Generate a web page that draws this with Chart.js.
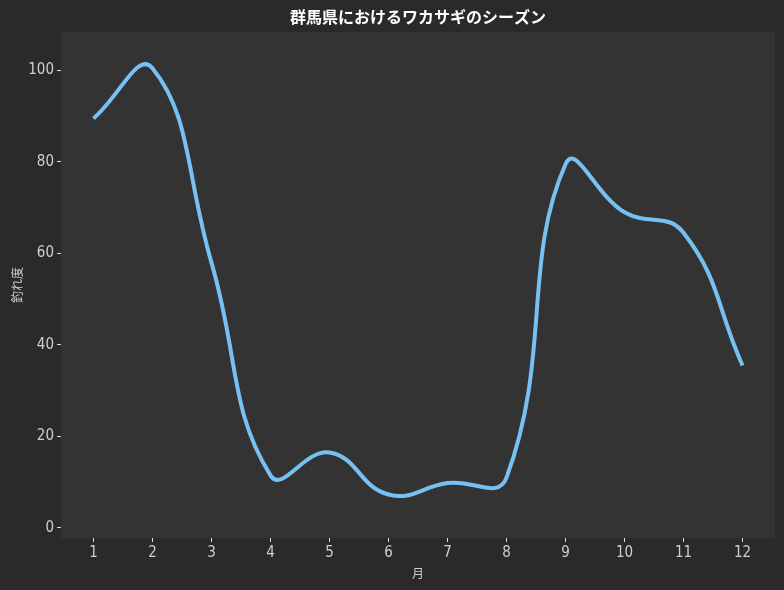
<!DOCTYPE html>
<html>
<head>
<meta charset="utf-8">
<script src="https://cdn.jsdelivr.net/npm/chart.js@4/dist/chart.umd.min.js"></script>
<style>
  html, body { margin: 0; padding: 0; background: #2a2a2a; }
  #wrap { width: 784px; height: 590px; }
</style>
</head>
<body>
<div id="wrap"><canvas id="chart"></canvas></div>
<script>
// ── 群馬県 ワカサギ 釣れ度 ──

const months    = [1, 2, 3, 4, 5, 6, 7, 8, 9, 10, 11, 12];
const catchRate = [89.5, 100.5, 58, 11.5, 16.5, 7.3, 9.8, 11, 79.5, 69, 64.5, 35.5];
const yTicks    = [0, 20, 40, 60, 80, 100];
const TITLE     = '群馬県におけるワカサギのシーズン';

const TICK_FONT = "'DejaVu Sans Condensed', 'Noto Sans CJK JP', sans-serif";
const CJK_FONT  = "'Noto Sans CJK JP', sans-serif";

// plot area background + title centred over the plot
const plotBg = {
  id: 'plotBg',
  beforeDraw(chart) {
    const { ctx, chartArea: a } = chart;
    ctx.save();
    ctx.fillStyle = '#333333';
    ctx.fillRect(a.left, a.top, a.right - a.left, a.bottom - a.top);
    ctx.fillStyle = '#ffffff';
    ctx.font = 'bold 16px ' + CJK_FONT;
    ctx.textAlign = 'center';
    ctx.textBaseline = 'middle';
    ctx.fillText(TITLE, (a.left + a.right) / 2, 17);
    ctx.restore();
  }
};

new Chart(document.getElementById('chart'), {
  type: 'line',
  data: {
    datasets: [{
      label: '釣れ度',
      data: months.map((m, i) => ({ x: m, y: catchRate[i] })),
      borderColor: '#76c1f2',
      borderWidth: 4,
      pointRadius: 0,
      tension: 0.45,
      fill: false
    }]
  },
  options: {
    responsive: true, maintainAspectRatio: false, animation: false,
    layout: { padding: { left: 0, right: 9, top: 32, bottom: 0 } },
    plugins: {
      legend: { display: false },
      tooltip: { enabled: false },
      title: { display: false }
    },
    scales: {
      x: {
        type: 'linear', min: 0.45, max: 12.55,
        afterBuildTicks: s => { s.ticks = months.map(v => ({ value: v })); },
        afterFit: s => { s.height = 52; },
        border: { display: false },
        grid: { drawOnChartArea: false, drawTicks: true, tickLength: 4, tickColor: '#dddddd', tickWidth: 1 },
        ticks: { color: '#cfcfcf', padding: 2, font: { family: TICK_FONT, size: 15 }, callback: v => String(v) },
        title: { display: true, text: '月', color: '#cfcfcf', padding: { top: 0, bottom: 9 },
                 font: { family: CJK_FONT, size: 12 } }
      },
      y: {
        min: -2.2, max: 108.4,
        afterBuildTicks: s => { s.ticks = yTicks.map(v => ({ value: v })); },
        afterFit: s => { s.width = 61; },
        border: { display: false },
        grid: { drawOnChartArea: false, drawTicks: true, tickLength: 4, tickColor: '#dddddd', tickWidth: 1 },
        ticks: { color: '#cfcfcf', padding: 3, font: { family: TICK_FONT, size: 15 }, callback: v => String(v) },
        title: { display: true, text: '釣れ度', color: '#cfcfcf', padding: { top: 10, bottom: 0 },
                 font: { family: CJK_FONT, size: 12 } }
      }
    }
  },
  plugins: [plotBg]
});
</script>
</body>
</html>
